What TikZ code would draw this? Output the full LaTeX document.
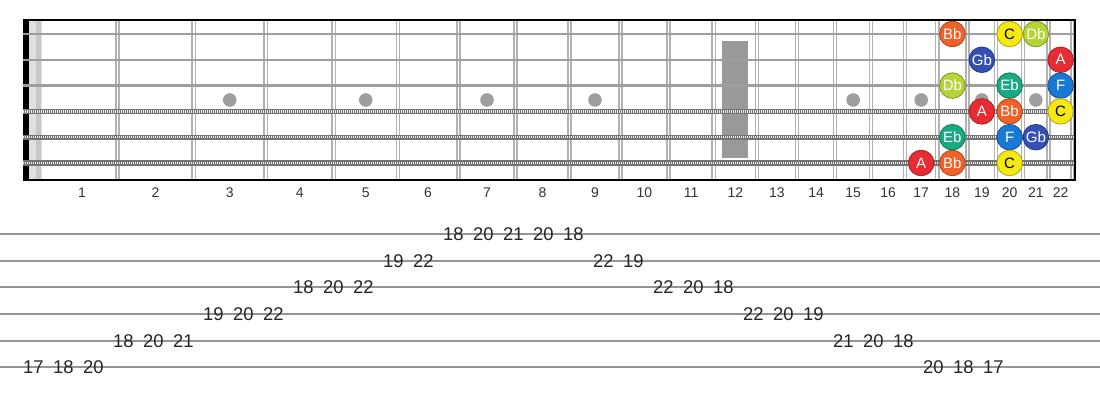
\documentclass[tikz,border=0pt]{standalone}
\usepackage{fontspec}
\setmainfont{Liberation Sans}
\usetikzlibrary{positioning}

\definecolor{noteA}{RGB}{232,44,52}
\definecolor{noteBb}{RGB}{240,98,40}
\definecolor{noteC}{RGB}{246,232,20}
\definecolor{noteDb}{RGB}{180,212,56}
\definecolor{noteEb}{RGB}{24,170,128}
\definecolor{noteF}{RGB}{24,120,212}
\definecolor{noteGb}{RGB}{52,80,182}

% fret positions (pixels) and string heights
\pgfmathdeclarefunction{fretx}{1}{\pgfmathparse{37+1439.7*(1-pow(2,-#1/12))}}
\pgfmathdeclarefunction{fretmid}{1}{\pgfmathparse{(fretx(#1-1)+fretx(#1))/2}}
\pgfmathdeclarefunction{stringy}{1}{\pgfmathparse{34+(#1-1)*25.8}}
\pgfmathdeclarefunction{taby}{1}{\pgfmathparse{234+(#1-1)*26.7}}

\tikzset{
    fretline/.style={draw=black!30, line width=0.75pt, double=white, double distance=0.8pt},
    plainstring/.style={draw=black!38, line width=1.2pt},
    woundstring/.style={draw=black!55, line width=2.6pt},
    woundwrap/.style={draw=black!8, line width=1.2pt, dash pattern=on 0.5pt off 0.5pt},
    inlay/.style={circle, fill=black!38, minimum size=6.8pt, inner sep=0pt},
    note/.style={circle, minimum size=12.8pt, inner sep=0pt, line width=0.4pt,
        font=\fontsize{7.5}{8}\selectfont},
    fretnum/.style={font=\fontsize{7}{8}\selectfont, text=black!80, inner sep=0pt},
    tabline/.style={draw=black!42, line width=1pt},
    tabnum/.style={font=\fontsize{9.2}{10}\selectfont, text=black!85, inner sep=0pt},
}

\begin{document}
\begin{tikzpicture}[x=0.5pt, y=-0.5pt]
    \useasboundingbox[fill=white] (0,0) rectangle (1100,400);

    % Nut
    \fill[black] (23,20) rectangle (28.5,180);
    \fill[black!12] (28.5,20) rectangle (42,180);
    \fill[black!22] (36,20) rectangle (41,180);

    % Inlays
    \foreach \n in {3,5,7,9,15,17,19,21}
        \node[inlay] (dot\n) at ({fretmid(\n)},100) {};
    \fill[black!40] (722,41) rectangle (748,158);

    % Frets
    \foreach \n in {1,...,22}
        \draw[fretline] ({fretx(\n)},20) -- ({fretx(\n)},180);

    % Strings
    \foreach \s in {1,2,3}
        \draw[plainstring] (23,{stringy(\s)}) -- (1075,{stringy(\s)});
    \foreach \s in {4,5,6} {
        \draw[woundstring] (23,{stringy(\s)}) -- (1075,{stringy(\s)});
        \draw[woundwrap] (23,{stringy(\s)}) -- (1075,{stringy(\s)});
    }

    % Board edges
    \draw[black, line width=1pt] (23,20) -- (1075,20) -- (1075,180) -- (23,180);

    % Fret numbers
    \node[fretnum] (num1) at (82,193) {1};
    \foreach \n in {2,...,22}
        \node[fretnum] (num\n) at ({fretmid(\n)},193) {\n};

    % Scale notes
    \foreach \lbl/\s/\f/\tc in {Bb/1/18/white, C/1/20/black, Db/1/21/white,
            Gb/2/19/white, A/2/22/white,
            Db/3/18/white, Eb/3/20/white, F/3/22/white,
            A/4/19/white, Bb/4/20/white, C/4/22/black,
            Eb/5/18/white, F/5/20/white, Gb/5/21/white,
            A/6/17/white, Bb/6/18/white, C/6/20/black}
        \node[note, fill=note\lbl, draw=note\lbl!70!black, text=\tc]
            (s\s f\f) at ({fretmid(\f)},{stringy(\s)}) {\lbl};

    % Tab
    \foreach \s in {1,...,6}
        \draw[tabline] (0,{taby(\s)}) -- (1100,{taby(\s)});
    \foreach \s/\f [count=\k from 0] in {6/17,6/18,6/20,5/18,5/20,5/21,
            4/19,4/20,4/22,3/18,3/20,3/22,2/19,2/22,1/18,1/20,1/21,
            1/20,1/18,2/22,2/19,3/22,3/20,3/18,4/22,4/20,4/19,
            5/21,5/20,5/18,6/20,6/18,6/17}
        \node[tabnum] (tab\k) at ({33.3+30*\k},{taby(\s)}) {\f};
\end{tikzpicture}
\end{document}
